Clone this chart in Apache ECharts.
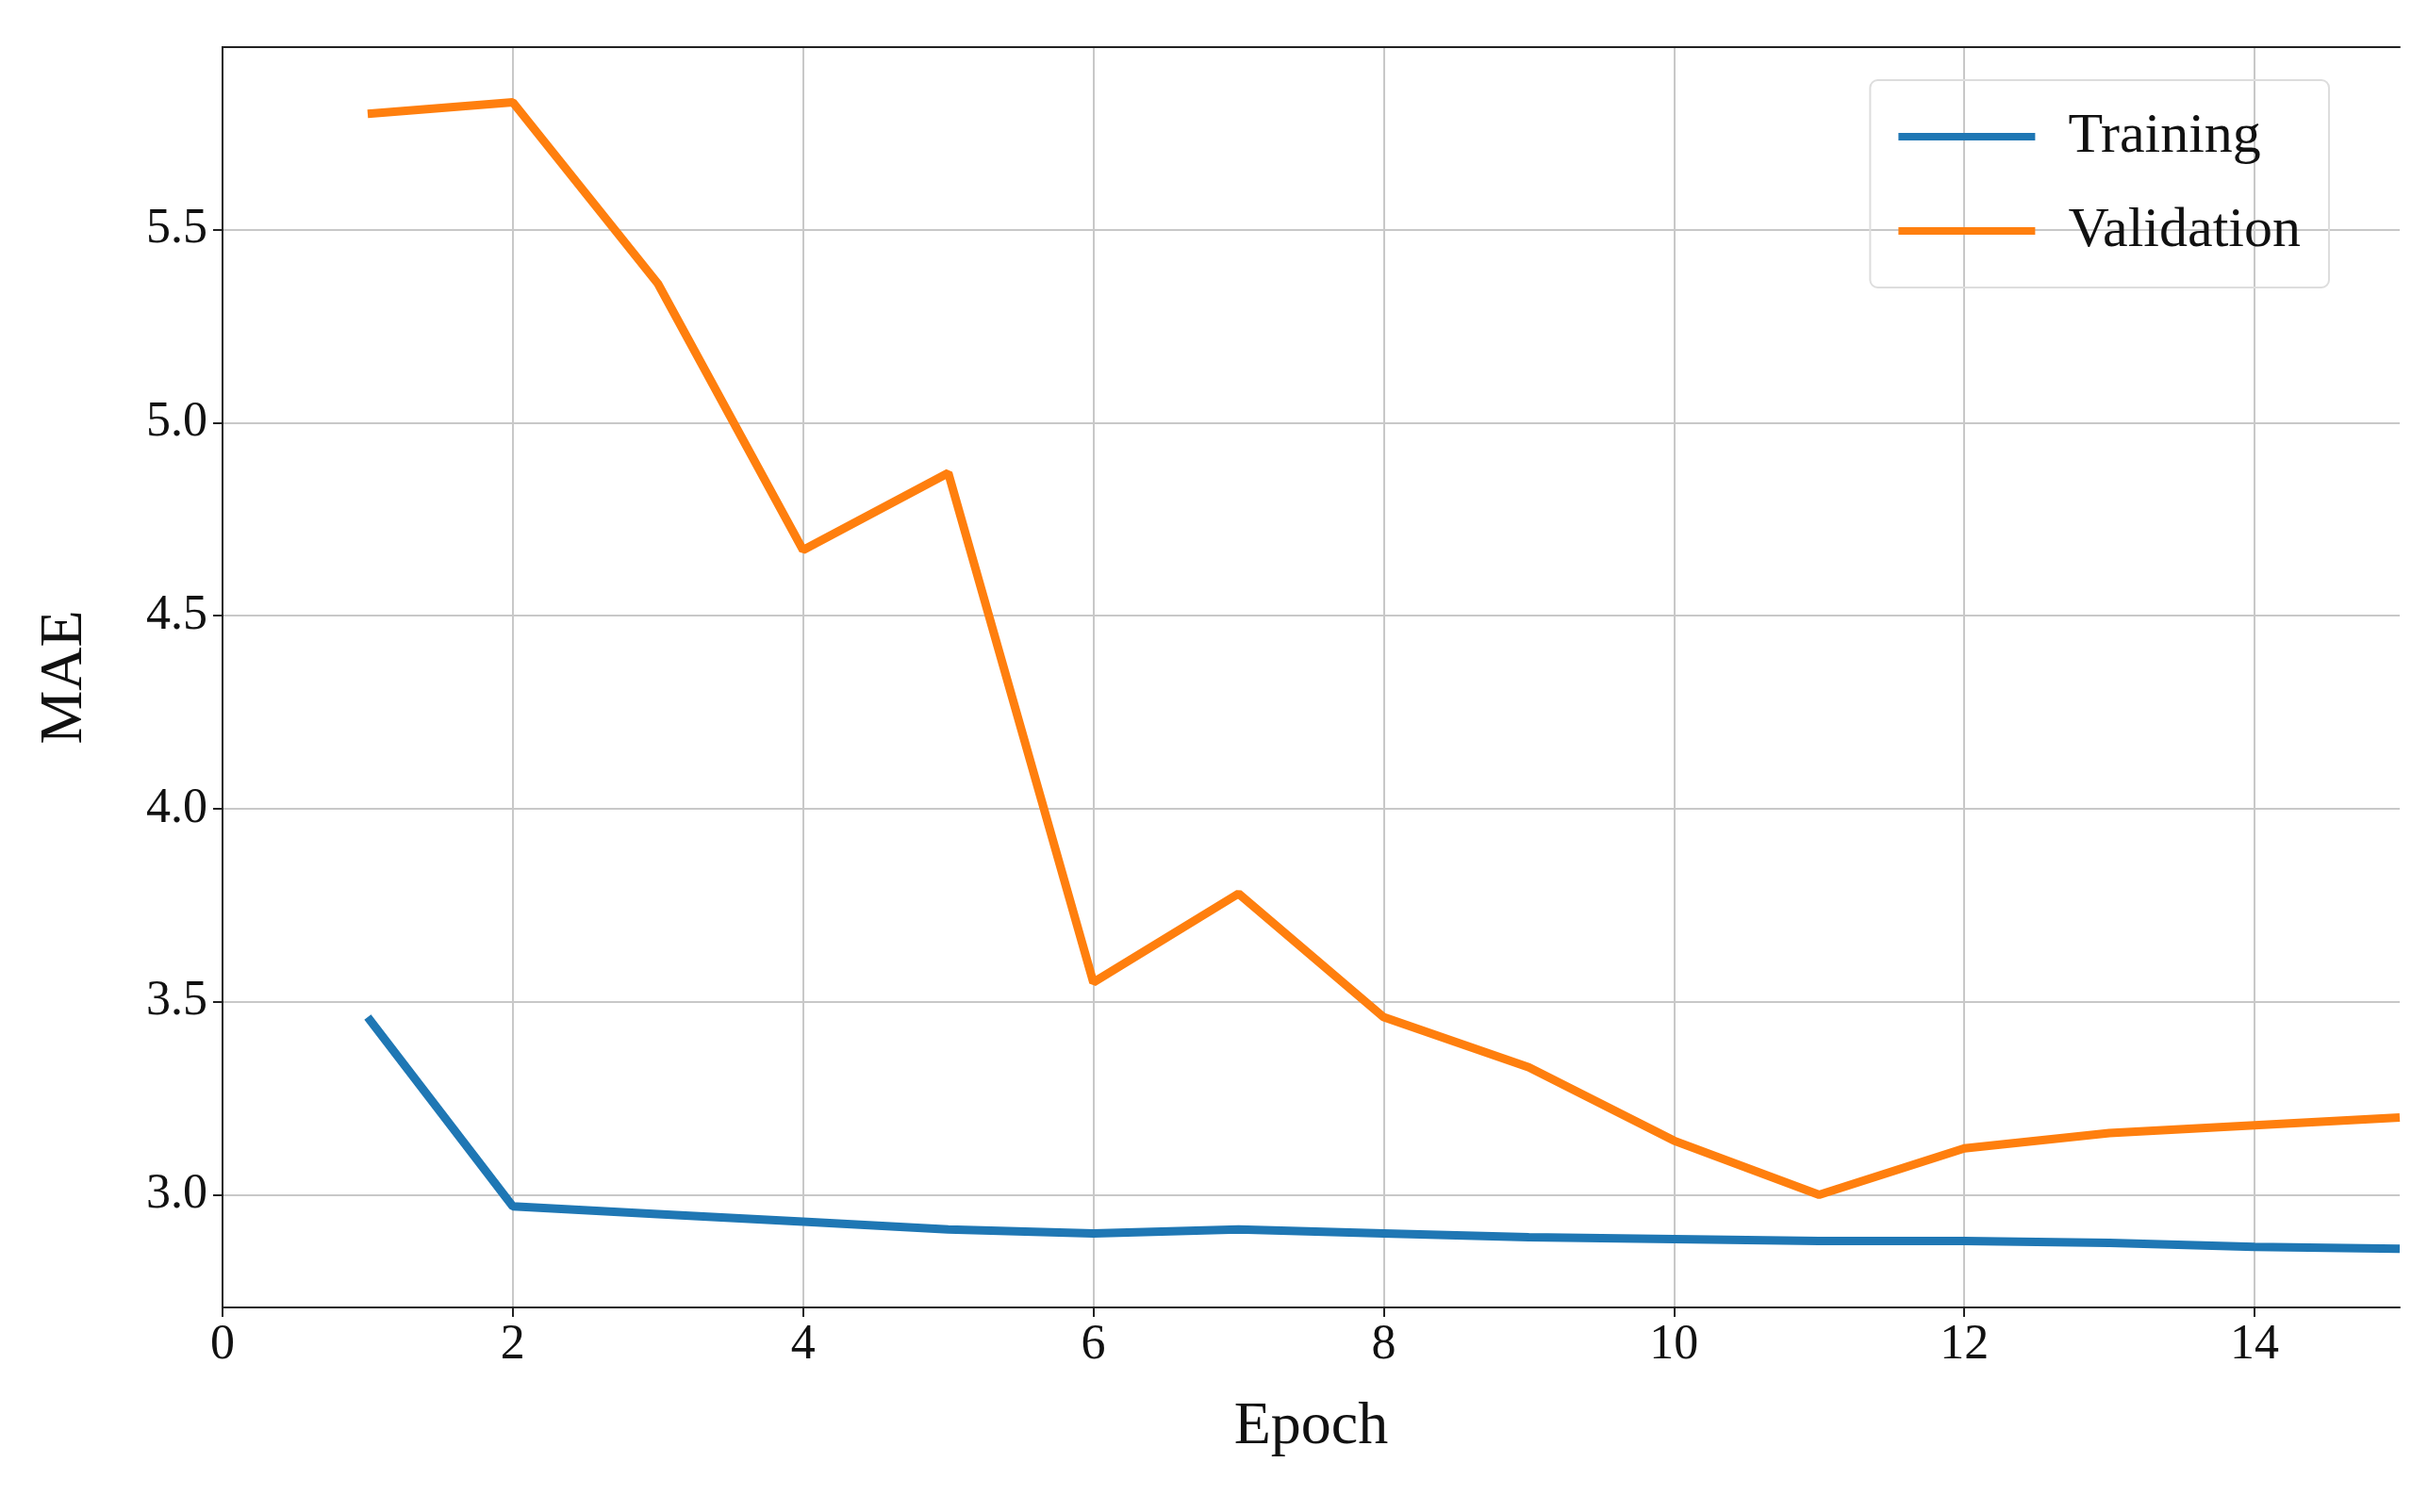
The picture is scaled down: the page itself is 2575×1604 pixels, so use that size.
<!DOCTYPE html>
<html><head><meta charset="utf-8">
<script src="https://cdn.jsdelivr.net/npm/echarts@6/dist/echarts.min.js"></script>
<style>html,body{margin:0;background:#fff}#c{width:2575px;height:1604px}</style>
</head><body><div id="c"></div>
<script>
const epochs = [1,2,3,4,5,6,7,8,9,10,11,12,13,14,15];
const training = [3.46,2.97,2.95,2.93,2.91,2.90,2.91,2.90,2.89,2.885,2.88,2.88,2.875,2.865,2.86];
const validation = [5.80,5.83,5.36,4.67,4.87,3.55,3.78,3.46,3.33,3.14,3.00,3.12,3.16,3.18,3.20];
const yTicks = [3.0,3.5,4.0,4.5,5.0,5.5];
const xTicks = [0,2,4,6,8,10,12,14];
const font = 'Liberation Serif';
const chart = echarts.init(document.getElementById('c'));
const frame = {show:true,lineStyle:{color:'#222',width:2}};
chart.setOption({
  animation:false,
  grid:{left:236,right:30,top:50,bottom:217,containLabel:false},
  legend:{right:105,top:85,orient:'vertical',itemWidth:145,itemHeight:8,itemGap:40,
    padding:[30,30,30,30],borderColor:'#ddd',borderWidth:2,borderRadius:8,
    textStyle:{fontFamily:font,fontSize:60,color:'#111',padding:[0,0,0,30]},
    data:[{name:'Training',icon:'rect'},{name:'Validation',icon:'rect'}]},
  xAxis:[{type:'value',min:0,max:15,name:'Epoch',nameLocation:'middle',nameGap:95,
    nameTextStyle:{fontFamily:font,fontSize:64,color:'#111'},
    axisLine:frame,
    axisTick:{customValues:xTicks,length:10,lineStyle:{color:'#222',width:2}},
    axisLabel:{customValues:xTicks,fontFamily:font,fontSize:52,color:'#111',margin:14},
    splitLine:{show:true,lineStyle:{color:'#c8c8c8',width:2}}},
    {type:'value',position:'top',min:0,max:15,axisLine:frame,axisTick:{show:false},axisLabel:{show:false},splitLine:{show:false}}],
  yAxis:[{type:'value',min:2.708,max:5.973,name:'MAE',nameLocation:'middle',nameGap:135,
    nameTextStyle:{fontFamily:font,fontSize:64,color:'#111'},
    axisLine:frame,
    axisTick:{show:true,customValues:yTicks,length:10,lineStyle:{color:'#222',width:2}},
    axisLabel:{customValues:yTicks,fontFamily:font,fontSize:52,color:'#111',margin:16,formatter:v=>v.toFixed(1)},
    splitLine:{show:true,lineStyle:{color:'#c8c8c8',width:2}}},
    {type:'value',position:'right',min:2.708,max:5.973,axisLine:frame,axisTick:{show:false},axisLabel:{show:false},splitLine:{show:false}}],
  series:[
    {name:'Training',type:'line',data:epochs.map((e,i)=>[e,training[i]]),showSymbol:false,
     itemStyle:{color:'#1f77b4'},lineStyle:{width:9,color:'#1f77b4'}},
    {name:'Validation',type:'line',data:epochs.map((e,i)=>[e,validation[i]]),showSymbol:false,
     itemStyle:{color:'#ff7f0e'},lineStyle:{width:9,color:'#ff7f0e'}}
  ]
});
</script></body></html>
